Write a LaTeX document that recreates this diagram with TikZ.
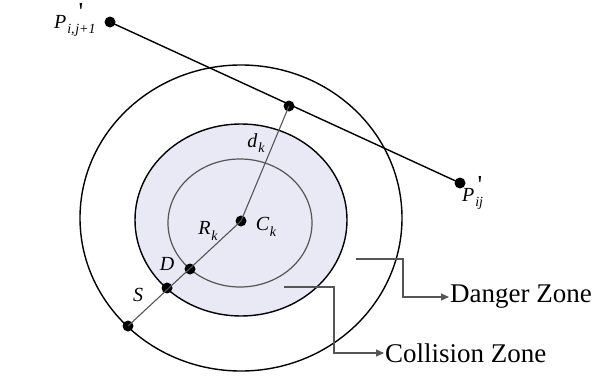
\documentclass[tikz,border=0pt]{standalone}
\usepackage{fontspec}
\setmainfont{Liberation Serif}
\usetikzlibrary{arrows.meta}
\definecolor{zonefill}{RGB}{233,233,246}
\definecolor{conn}{RGB}{85,85,85}
\newcommand\sbs[1]{\raisebox{-0.28em}{\fontsize{14}{14}\selectfont\kern0.06em #1}}
\begin{document}
\begin{tikzpicture}[x=1pt,y=-1pt,
  dot/.style={circle,fill=black,inner sep=0pt,minimum size=11pt},
  mlbl/.style={inner sep=0pt,font=\fontsize{20}{22}\selectfont\itshape},
  prm/.style={inner sep=0pt,anchor=north,font=\fontsize{26}{28}\selectfont},
  zlbl/.style={inner sep=1pt,anchor=west,font=\fontsize{27}{29}\selectfont},
  ring/.style={line width=1.4pt,draw=black},
  ray/.style={line width=1.1pt,draw=conn},
  pointer/.style={line width=1.2pt,draw=conn,-{Triangle[length=8pt,width=7pt]}}]
\useasboundingbox (0,0) rectangle (597,380);
% zones
\draw[ring] (241,218) ellipse [x radius=161, y radius=153];
\draw[ring,fill=zonefill] (241,220) ellipse [x radius=106, y radius=96];
\draw[line width=1.2pt,draw=conn] (240,223) ellipse [x radius=72, y radius=64];
% points
\node[dot] (Pj1) at (110,22) {};
\node[dot] (Pij) at (460,183) {};
\node[dot] (M) at (289,106) {};
\node[dot] (C) at (241,221) {};
\node[dot] (D) at (190,269) {};
\node[dot] (Sd) at (167,288) {};
\node[dot] (B) at (128,326) {};
% lines
\draw[line width=1.4pt] (Pj1.center) -- (Pij.center);
\draw[ray] (C.center) -- (M.center);
\draw[ray] (C.center) -- (B.center);
% labels
\node[mlbl,anchor=base west] (lPj1) at (54,28) {P\sbs{i,\kern0.05em j+1}};
\node[prm] (pPj1) at (81,3) {\textquotesingle};
\node[mlbl,anchor=base west] (lPij) at (462,201) {P\sbs{ij}};
\node[prm] (pPij) at (480,176) {\textquotesingle};
\node[mlbl] (ldk) at (256,143) {d\sbs{k}};
\node[mlbl] (lRk) at (208,231) {R\sbs{k}};
\node[mlbl] (lCk) at (266,227) {C\sbs{k}};
\node[mlbl] (lD) at (167,264) {D};
\node[mlbl] (lS) at (138,295) {S};
% zone pointers
\coordinate (dz0) at (356,259);
\coordinate (dz1) at (403,259);
\coordinate (dz2) at (403,297);
\node[zlbl] (dzl) at (449,297) {Danger Zone};
\draw[pointer] (dz0) -- (dz1) -- (dz2) -- (dzl.west);
\coordinate (cz0) at (284,287);
\coordinate (cz1) at (334,287);
\coordinate (cz2) at (334,353);
\node[zlbl] (czl) at (384,353) {Collision Zone};
\draw[pointer] (cz0) -- (cz1) -- (cz2) -- (czl.west);
\end{tikzpicture}
\end{document}
